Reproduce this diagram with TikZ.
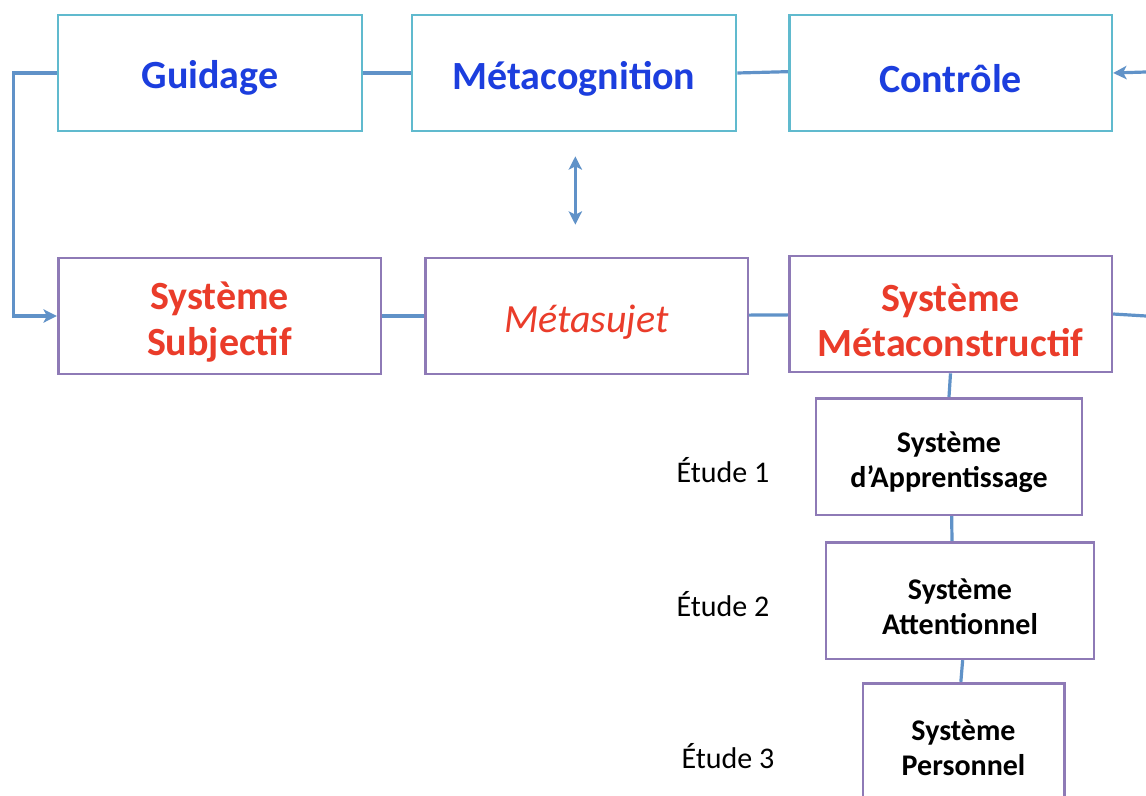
\documentclass[tikz,border=0pt]{standalone}
\usepackage{fontspec}
\setmainfont{Carlito}
\usetikzlibrary{arrows.meta}

\definecolor{bordciel}{RGB}{96,186,206}
\definecolor{bordmauve}{RGB}{142,122,182}
\definecolor{textbleu}{RGB}{28,62,222}
\definecolor{textrouge}{RGB}{234,60,42}
\definecolor{liencol}{RGB}{96,146,200}

\begin{document}
\begin{tikzpicture}[x=0.75pt,y=0.75pt,yscale=-1,xscale=1,
  pole/.style={draw=bordciel, line width=2pt, fill=white, minimum height=87pt, inner sep=0pt},
  systeme/.style={draw=bordmauve, line width=2pt, fill=white, minimum height=87pt, inner sep=0pt},
  soussys/.style={draw=bordmauve, line width=2pt, fill=white, minimum height=87.5pt, inner sep=0pt},
  titrebleu/.style={yshift=-4pt, inner sep=0pt, align=center, text=textbleu, font=\bfseries\fontsize{30}{34}\selectfont},
  titrerouge/.style={yshift=-4.5pt, inner sep=0pt, align=center, text=textrouge, font=\bfseries\fontsize{30}{34}\selectfont},
  titrenoir/.style={yshift=-4.5pt, inner sep=0pt, align=center, text=black, font=\bfseries\fontsize{22.5}{26}\selectfont},
  etude/.style={inner sep=0pt, font=\fontsize{22.5}{26}\selectfont},
  lien/.style={draw=liencol, line width=2.4pt},
  pointe/.style={-{Stealth[length=10pt,width=10pt,inset=2.5pt]}}]
\useasboundingbox (0,0) rectangle (1146,796);

% ligne du haut
\node[pole, minimum width=228pt] (guid) at (210,73) {};
\node[pole, minimum width=243pt] (meta) at (574,73) {};
\node[pole, minimum width=242pt] (ctrl) at (950.5,73) {};
\node[titrebleu] (guidT) at (guid) {Guidage};
\node[titrebleu] (metaT) at (meta) {Métacognition};
\node[titrebleu] (ctrlT) at (ctrl) {Contrôle};

% ligne du milieu
\node[systeme, minimum width=242pt] (subj) at (219.5,316) {};
\node[systeme, minimum width=242pt] (msuj) at (586.5,316) {};
\node[systeme, minimum width=242pt] (mcon) at (950.5,314) {};
\node[titrerouge] (subjT) at (subj) {Système\\Subjectif};
\node[titrerouge, font=\itshape\fontsize{30}{34}\selectfont] (msujT) at (msuj) {Métasujet};
\node[titrerouge] (mconT) at (mcon) {Système\\Métaconstructif};

% sous-systemes
\node[soussys, minimum width=199.5pt] (appr) at (949,456.5) {};
\node[soussys, minimum width=201pt] (attn) at (960,600.5) {};
\node[soussys, minimum width=151pt] (pers) at (963.5,741.5) {};
\node[titrenoir] (apprT) at (appr) {Système\\d’Apprentissage};
\node[titrenoir] (attnT) at (attn) {Système\\Attentionnel};
\node[titrenoir] (persT) at (pers) {Système\\Personnel};

\node[etude] (e1) at (723,470) {Étude 1};
\node[etude] (e2) at (723,604) {Étude 2};
\node[etude] (e3) at (728,756) {Étude 3};

% liens
\coordinate (horsA) at (1146,72);
\coordinate (horsB) at (1146,316);
\draw[lien] (guid) -- (meta);
\draw[lien] (meta.east) -- ([yshift=-1pt]ctrl.west);
\draw[lien, pointe] (horsA) -- (ctrl.east);
\draw[lien, pointe] (guid.west) -- ++(-43,0) |- (subj.west);
\draw[lien] (subj) -- (msuj);
\draw[lien] (msuj) -- (mcon);
\draw[lien] (mcon.east) -- (horsB);
\draw[lien, {Stealth[length=10pt,width=10pt,inset=2.5pt]}-{Stealth[length=10pt,width=10pt,inset=2.5pt]}, shorten <=18pt, shorten >=24pt] ([xshift=1pt]meta.south) -- ([xshift=1pt]meta.south |- msuj.north);
\draw[lien] (mcon.south) -- (appr.north);
\draw[lien] ([xshift=2pt]appr.south) -- ([xshift=-6pt]attn.north);
\draw[lien] ([xshift=2pt]attn.south) -- ([xshift=-2pt]pers.north);

\end{tikzpicture}
\end{document}
